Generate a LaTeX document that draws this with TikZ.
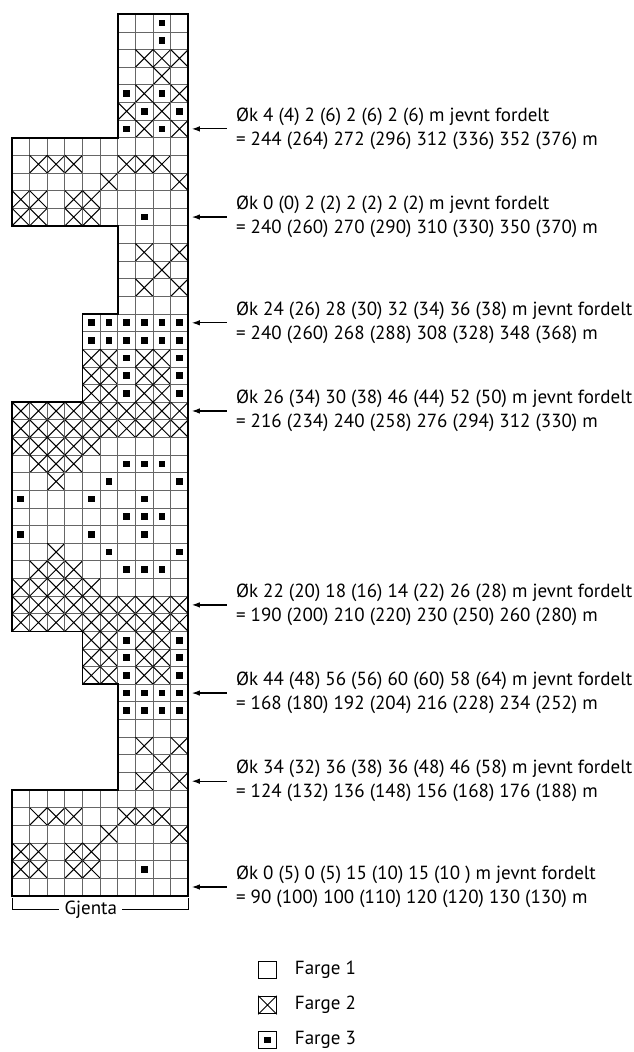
\documentclass[tikz,border=0pt]{standalone}
\usepackage{fontspec}
\setmainfont{PT Sans}
\usetikzlibrary{arrows.meta,positioning}
\tikzset{
  cell/.style={draw=black!60, line width=0.8pt},
  cross/.style={draw=black, line width=1pt},
  note/.style={align=left, inner sep=0pt, font=\fontsize{19}{24}\selectfont},
  arr/.style={-{Latex[length=8pt,width=5.5pt]}, line width=1.2pt, shorten <=9pt},
  legbox/.style={draw=black, line width=0.9pt, minimum size=17.6pt, inner sep=0pt},
}
\begin{document}
\begin{tikzpicture}[x=1pt, y=-1pt]
  \useasboundingbox (0,0) rectangle (633,1052);

  \begin{scope}[shift={(12,14.3)}, x=17.63pt, y=-17.63pt]
    % 模様 (rad/første rute/ruter: 0 = Farge 1, 1 = Farge 2, 2 = Farge 3)
    \foreach \r/\c/\pat in {
        1/7/{0,0,2,0}, 2/7/{0,0,2,0}, 3/7/{0,1,1,1}, 4/7/{0,0,1,0},
        5/7/{2,1,2,1}, 6/7/{1,2,1,2}, 7/7/{2,1,2,1},
        8/1/{0,0,0,0,0,0,0,0,0,0}, 9/1/{0,1,1,1,0,0,1,1,1,0},
        10/1/{0,0,0,0,0,1,0,0,0,1}, 11/1/{1,1,0,1,1,0,0,0,0,0},
        12/1/{1,1,0,1,1,0,0,2,0,0},
        13/7/{0,0,0,0}, 14/7/{0,1,0,1}, 15/7/{0,0,1,0}, 16/7/{0,1,0,1},
        17/7/{0,0,0,0},
        18/5/{2,2,2,2,2,2}, 19/5/{2,2,2,2,2,2}, 20/5/{1,1,2,1,1,2},
        21/5/{1,1,2,1,1,2}, 22/5/{1,1,2,1,1,2},
        23/1/{1,1,1,1,1,1,1,1,1,1}, 24/1/{1,1,1,1,1,1,1,1,1,1},
        25/1/{1,1,1,1,1,0,0,0,0,0}, 26/1/{0,1,1,1,0,0,2,2,2,0},
        27/1/{0,0,1,0,0,2,0,0,0,2}, 28/1/{2,0,0,0,2,0,0,2,0,0},
        29/1/{0,0,0,0,0,0,2,2,2,0}, 30/1/{2,0,0,0,2,0,0,2,0,0},
        31/1/{0,0,1,0,0,2,0,0,0,2}, 32/1/{0,1,1,1,0,0,2,2,2,0},
        33/1/{1,1,1,1,1,0,0,0,0,0}, 34/1/{1,1,1,1,1,1,1,1,1,1},
        35/1/{1,1,1,1,1,1,1,1,1,1},
        36/5/{1,1,2,1,1,2}, 37/5/{1,1,2,1,1,2}, 38/5/{1,1,2,1,1,2},
        39/7/{2,2,2,2}, 40/7/{2,2,2,2}, 41/7/{0,0,0,0}, 42/7/{0,1,0,1},
        43/7/{0,0,1,0}, 44/7/{0,1,0,1},
        45/1/{0,0,0,0,0,0,0,0,0,0}, 46/1/{0,1,1,1,0,0,1,1,1,0},
        47/1/{0,0,0,0,0,1,0,0,0,1}, 48/1/{1,1,0,1,1,0,0,0,0,0},
        49/1/{1,1,0,1,1,0,0,2,0,0}, 50/1/{0,0,0,0,0,0,0,0,0,0}}{
      \foreach \v [count=\i] in \pat {
        \pgfmathtruncatemacro\cc{\c+\i-2}
        \draw[cell] (\cc,\r-1) rectangle ++(1,1);
        \ifnum\v=1 \draw[cross] (\cc,\r-1) -- ++(1,1) (\cc+1,\r-1) -- ++(-1,1);\fi
        \ifnum\v=2 \fill (\cc+0.5,\r-0.5) +(-0.19,-0.19) rectangle +(0.19,0.19);\fi
      }
    }

    % ytterkant
    \draw[line width=1.7pt] (6,0) -- (10,0) -- (10,50) -- (0,50) -- (0,44) -- (6,44)
      -- (6,38) -- (4,38) -- (4,35) -- (0,35) -- (0,22) -- (4,22) -- (4,17)
      -- (6,17) -- (6,12) -- (0,12) -- (0,7) -- (6,7) -- cycle;

    % pilspisser
    \foreach \r in {7,12,18,23,34,39,44,50}
      \coordinate (a\r) at (10.2,\r-0.5);

    % Gjenta
    \coordinate (gl) at (0,50.8);
    \coordinate (gr) at (10,50.8);
    \node[note, inner sep=5pt] (gjenta) at (4.47,50.8) {Gjenta};
    \draw[line width=0.9pt] (gl) ++(0,-0.65) -- (gl) -- (gjenta.west);
    \draw[line width=0.9pt] (gjenta.east) -- (gr) -- ++(0,-0.65);
  \end{scope}

  % økninger
  \node[note, right=44pt of a7] (n7) {Øk 4 (4) 2 (6) 2 (6) 2 (6) m jevnt fordelt\\= 244 (264) 272 (296) 312 (336) 352 (376) m};
  \node[note, right=44pt of a12] (n12) {Øk 0 (0) 2 (2) 2 (2) 2 (2) m jevnt fordelt\\= 240 (260) 270 (290) 310 (330) 350 (370) m};
  \node[note, right=44pt of a18] (n18) {Øk 24 (26) 28 (30) 32 (34) 36 (38) m jevnt fordelt\\= 240 (260) 268 (288) 308 (328) 348 (368) m};
  \node[note, right=44pt of a23] (n23) {Øk 26 (34) 30 (38) 46 (44) 52 (50) m jevnt fordelt\\= 216 (234) 240 (258) 276 (294) 312 (330) m};
  \node[note, right=44pt of a34] (n34) {Øk 22 (20) 18 (16) 14 (22) 26 (28) m jevnt fordelt\\= 190 (200) 210 (220) 230 (250) 260 (280) m};
  \node[note, right=44pt of a39] (n39) {Øk 44 (48) 56 (56) 60 (60) 58 (64) m jevnt fordelt\\= 168 (180) 192 (204) 216 (228) 234 (252) m};
  \node[note, right=44pt of a44] (n44) {Øk 34 (32) 36 (38) 36 (48) 46 (58) m jevnt fordelt\\= 124 (132) 136 (148) 156 (168) 176 (188) m};
  \node[note, right=44pt of a50] (n50) {Øk 0 (5) 0 (5) 15 (10) 15 (10 ) m jevnt fordelt\\= 90 (100) 100 (110) 120 (120) 130 (130) m};
  \foreach \r in {7,12,18,23,34,39,44,50}
    \draw[arr] (n\r.west) -- (a\r);

  % forklaring (Farge 1-3)
  \node[legbox] (f1) at (267.5,970) {};
  \node[legbox] (f2) at (267.5,1005) {};
  \node[legbox] (f3) at (267.5,1040) {};
  \draw[cross] (f2.north west) -- (f2.south east) (f2.north east) -- (f2.south west);
  \fill (f3.center) +(-3.3,-3.3) rectangle +(3.3,3.3);
  \node[note, right=18pt of f1] (l1) {Farge 1};
  \node[note, right=18pt of f2] (l2) {Farge 2};
  \node[note, right=18pt of f3] (l3) {Farge 3};
\end{tikzpicture}
\end{document}
